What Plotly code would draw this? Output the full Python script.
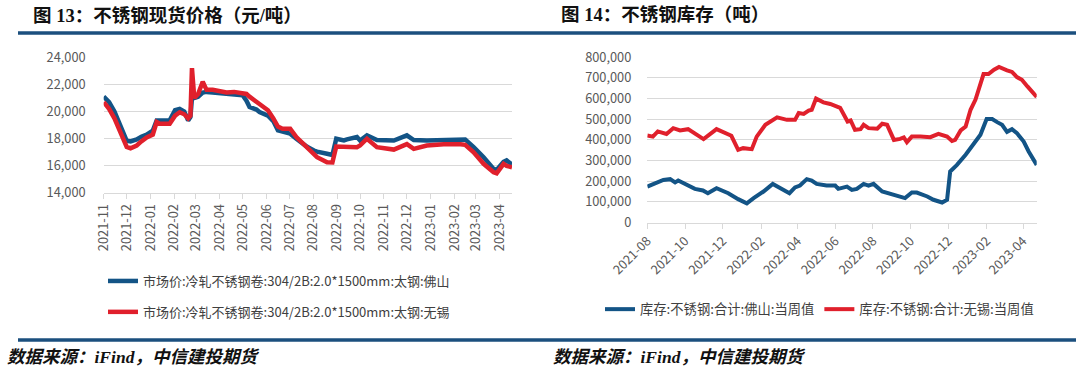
import plotly.graph_objects as go

# ---------------- Data: left chart (stainless spot price, 元/吨) ----------------
price_dates = [
    "2021-11-01", "2021-11-08", "2021-11-15", "2021-11-22", "2021-12-01", "2021-12-06",
    "2021-12-14", "2021-12-20", "2021-12-27", "2022-01-04", "2022-01-09", "2022-01-13",
    "2022-01-26", "2022-02-02", "2022-02-08", "2022-02-14", "2022-02-19", "2022-02-22",
    "2022-02-24", "2022-02-27", "2022-03-04", "2022-03-10", "2022-03-15", "2022-03-23",
    "2022-04-01", "2022-04-10", "2022-04-20", "2022-05-01", "2022-05-06", "2022-05-10",
    "2022-05-19", "2022-05-23", "2022-06-03", "2022-06-10", "2022-06-16", "2022-06-22",
    "2022-07-02", "2022-07-10", "2022-07-15", "2022-07-24", "2022-08-02", "2022-08-06",
    "2022-08-19", "2022-08-26", "2022-08-31", "2022-09-10", "2022-09-14", "2022-09-27",
    "2022-10-01", "2022-10-10", "2022-10-23", "2022-11-14", "2022-12-01", "2022-12-10",
    "2022-12-27", "2023-01-18", "2023-02-09", "2023-02-15", "2023-02-26", "2023-03-11",
    "2023-03-24", "2023-03-28", "2023-04-06", "2023-04-10", "2023-04-17",
]
price_foshan = [
    21100, 20700, 20000, 19000, 17850, 17800,
    17950, 18150, 18300, 18600, 19350, 19350,
    19350, 20100, 20200, 20000, 19350, 19600,
    21000, 21000, 21100, 21400, 21450, 21400,
    21350, 21300, 21300, 21200, 20800, 20340,
    20150, 19970, 19700, 19300, 18610, 18550,
    18370, 18000, 17750, 17400, 17130, 17050,
    16890, 16800, 18000, 17870, 17950, 18120,
    17870, 18250, 17900, 17870, 18250, 17900,
    17870, 17900, 17900, 17950, 17380, 16640,
    15780, 15700, 16300, 16400, 16100,
]
price_wuxi = [
    20700, 20200, 19500, 18500, 17400, 17300,
    17500, 17800, 18100, 18300, 19230, 19100,
    19100, 19700, 19950, 19800, 19500, 19700,
    23200, 21000, 21300, 22200, 21600, 21600,
    21500, 21400, 21450, 21350, 21300, 21100,
    20700, 20500, 20100, 19500, 18900, 18740,
    18740, 18120, 17850, 17380, 16900, 16640,
    16270, 16250, 17430, 17400, 17380, 17380,
    17500, 18000, 17380, 17200, 17600, 17250,
    17500, 17600, 17600, 17550, 17000, 16150,
    15530, 15450, 16150, 16000, 15900,
]

# ---------------- Data: right chart (stainless inventory, 吨) ----------------
inv_fs_dates = [
    "2021-08-01", "2021-08-13", "2021-08-27", "2021-09-07", "2021-09-15", "2021-09-20",
    "2021-10-06", "2021-10-17", "2021-10-30", "2021-11-07", "2021-11-21", "2021-12-10",
    "2021-12-26", "2022-01-09", "2022-01-20", "2022-02-05", "2022-02-20", "2022-03-04",
    "2022-03-19", "2022-03-28", "2022-04-05", "2022-04-16", "2022-04-24", "2022-05-02",
    "2022-05-18", "2022-06-01", "2022-06-06", "2022-06-20", "2022-06-28", "2022-07-06",
    "2022-07-17", "2022-07-25", "2022-08-02", "2022-08-16", "2022-08-29", "2022-09-22",
    "2022-10-03", "2022-10-11", "2022-10-28", "2022-11-07", "2022-11-21", "2022-11-29",
    "2022-12-04", "2022-12-15", "2022-12-29", "2023-01-11", "2023-01-22", "2023-02-01",
    "2023-02-10", "2023-02-18", "2023-02-26", "2023-03-06", "2023-03-14", "2023-03-22",
    "2023-04-02", "2023-04-10", "2023-04-23",
]
inv_foshan = [
    174000, 187000, 206000, 210000, 194000, 203000,
    182000, 163000, 155000, 142000, 166000, 142000,
    113000, 93000, 118000, 150000, 187000, 166000,
    142000, 170000, 179000, 210000, 203000, 187000,
    179000, 179000, 163000, 174000, 158000, 163000,
    187000, 179000, 187000, 150000, 139000, 118000,
    145000, 145000, 126000, 110000, 97000, 110000,
    247000, 279000, 328000, 384000, 425000, 501000,
    501000, 486000, 473000, 439000, 452000, 433000,
    392000, 344000, 279000,
]
inv_wx_dates = [
    "2021-08-01", "2021-08-10", "2021-08-18", "2021-09-01", "2021-09-12", "2021-09-23",
    "2021-10-06", "2021-10-20", "2021-10-31", "2021-11-21", "2021-12-07", "2021-12-15",
    "2021-12-26", "2022-01-03", "2022-01-17", "2022-01-25", "2022-02-08", "2022-02-27",
    "2022-03-15", "2022-03-28", "2022-04-03", "2022-04-11", "2022-04-19", "2022-04-24",
    "2022-05-01", "2022-05-13", "2022-05-24", "2022-06-01", "2022-06-09", "2022-06-21",
    "2022-06-26", "2022-07-03", "2022-07-12", "2022-07-17", "2022-07-25", "2022-08-08",
    "2022-08-16", "2022-08-24", "2022-09-04", "2022-09-14", "2022-09-20", "2022-09-25",
    "2022-10-03", "2022-10-17", "2022-11-02", "2022-11-15", "2022-11-29", "2022-12-07",
    "2022-12-12", "2022-12-21", "2022-12-29", "2023-01-06", "2023-01-14", "2023-01-27",
    "2023-02-04", "2023-02-13", "2023-02-21", "2023-03-06", "2023-03-14", "2023-03-22",
    "2023-03-30", "2023-04-08", "2023-04-16", "2023-04-23",
]
inv_wuxi = [
    421000, 416000, 441000, 429000, 457000, 446000,
    452000, 424000, 404000, 452000, 433000, 420000,
    352000, 360000, 355000, 416000, 473000, 509000,
    497000, 497000, 530000, 526000, 542000, 546000,
    600000, 582000, 574000, 563000, 555000, 489000,
    494000, 449000, 452000, 473000, 457000, 454000,
    478000, 473000, 400000, 405000, 412000, 389000,
    416000, 416000, 413000, 429000, 416000, 395000,
    400000, 446000, 465000, 546000, 595000, 719000,
    719000, 740000, 753000, 737000, 729000, 704000,
    691000, 659000, 635000, 608000,
]

title_left = "图 13：不锈钢现货价格（元/吨）"
title_right = "图 14：不锈钢库存（吨）"
source_text = "数据来源：iFind，中信建投期货"
name_fs_price = "市场价:冷轧不锈钢卷:304/2B:2.0*1500mm:太钢:佛山"
name_wx_price = "市场价:冷轧不锈钢卷:304/2B:2.0*1500mm:太钢:无锡"
name_fs_inv = "库存:不锈钢:合计:佛山:当周值"
name_wx_inv = "库存:不锈钢:合计:无锡:当周值"

BLUE = "#135486"
RED = "#e0202c"
NAVY = "#1b4f7e"
TICK = "#595959"
GRID = "#d9d9d9"
W, H = 1080, 372
CJK = "Noto Sans CJK SC"


def px(x):
    return x / W


def py(y):
    return 1 - y / H


fig = go.Figure()
fig.add_trace(go.Scatter(x=price_dates, y=price_foshan, name=name_fs_price, mode="lines",
                         line=dict(color=BLUE, width=4.5), xaxis="x", yaxis="y",
                         legend="legend", legendgroup="a"))
fig.add_trace(go.Scatter(x=price_dates, y=price_wuxi, name=name_wx_price, mode="lines",
                         line=dict(color=RED, width=4.5), xaxis="x", yaxis="y",
                         legend="legend", legendgroup="b"))
fig.add_trace(go.Scatter(x=inv_fs_dates, y=inv_foshan, name=name_fs_inv, mode="lines",
                         line=dict(color=BLUE, width=4), xaxis="x2", yaxis="y2",
                         legend="legend2"))
fig.add_trace(go.Scatter(x=inv_wx_dates, y=inv_wuxi, name=name_wx_inv, mode="lines",
                         line=dict(color=RED, width=4), xaxis="x2", yaxis="y2",
                         legend="legend2"))

tickfont = dict(family=CJK, size=12.8, color=TICK)

fig.update_layout(
    template="none",
    width=W, height=H,
    margin=dict(l=0, r=0, t=0, b=0, pad=0, autoexpand=False),
    paper_bgcolor="white", plot_bgcolor="white",
    xaxis=dict(domain=[px(103.7), px(512)], anchor="y", type="date", automargin=False,
               range=["2021-11-01", "2023-04-17"], dtick="M1", tick0="2021-11-01",
               tickformat="%Y-%m", tickangle=-90, showgrid=False,
               showline=True, linecolor=GRID, linewidth=1, zeroline=False,
               ticks="outside", ticklen=5, tickcolor=GRID, tickwidth=1,
               tickfont=tickfont, fixedrange=True),
    yaxis=dict(domain=[py(193), py(57.3)], anchor="x", range=[14000, 24000], automargin=False,
               dtick=2000, tickformat=",d", showgrid=True, gridcolor=GRID, gridwidth=1,
               zeroline=False, showline=False, ticks="", ticklabelstandoff=17,
               tickfont=tickfont),
    xaxis2=dict(domain=[px(647.3), px(1036.7)], anchor="y2", type="date", automargin=False,
                range=["2021-08-01", "2023-04-23"], dtick="M2", tick0="2021-08-01",
                tickformat="%Y-%m", tickangle=-45, showgrid=False,
                showline=True, linecolor=GRID, linewidth=1, zeroline=False,
                ticks="outside", ticklen=5, tickcolor=GRID, tickwidth=1,
                tickfont=tickfont),
    yaxis2=dict(domain=[py(222.5), py(57.3)], anchor="x2", range=[0, 800000], automargin=False,
                dtick=100000, tickformat=",d", showgrid=True, gridcolor=GRID, gridwidth=1,
                zeroline=False, showline=False, ticks="", ticklabelstandoff=15,
                tickfont=tickfont),
    legend=dict(x=px(103), y=py(266), xanchor="left", yanchor="top",
                orientation="v", tracegroupgap=11, bgcolor="rgba(0,0,0,0)", borderwidth=0,
                font=dict(family=CJK, size=13, color="#404040")),
    legend2=dict(x=px(600), y=py(294), xanchor="left", yanchor="top",
                 orientation="h", bgcolor="rgba(0,0,0,0)", borderwidth=0,
                 font=dict(family=CJK, size=13.3, color="#404040")),
    showlegend=True,
)

title_font = dict(family="Liberation Serif, " + CJK, size=18.5, color="#111111", weight="bold")
fig.add_annotation(text=title_left, x=px(31), y=py(15.5), xref="paper", yref="paper",
                   xanchor="left", yanchor="middle", showarrow=False, font=title_font)
fig.add_annotation(text=title_right, x=px(559), y=py(15.5), xref="paper", yref="paper",
                   xanchor="left", yanchor="middle", showarrow=False, font=title_font)

src_font = dict(family="Liberation Serif, " + CJK, size=17.5, color="#111111",
                weight="bold", style="italic")
fig.add_annotation(text=source_text, x=px(5), y=py(357), xref="paper", yref="paper",
                   xanchor="left", yanchor="middle", showarrow=False, font=src_font)
fig.add_annotation(text=source_text, x=px(551), y=py(357), xref="paper", yref="paper",
                   xanchor="left", yanchor="middle", showarrow=False, font=src_font)

for yy in (33, 340):
    fig.add_shape(type="line", xref="paper", yref="paper",
                  x0=px(18), x1=px(1076), y0=py(yy), y1=py(yy),
                  line=dict(color=NAVY, width=3.5))

fig.write_html("out.html", config={"displayModeBar": False},
               post_script="document.body.style.margin='0';")
